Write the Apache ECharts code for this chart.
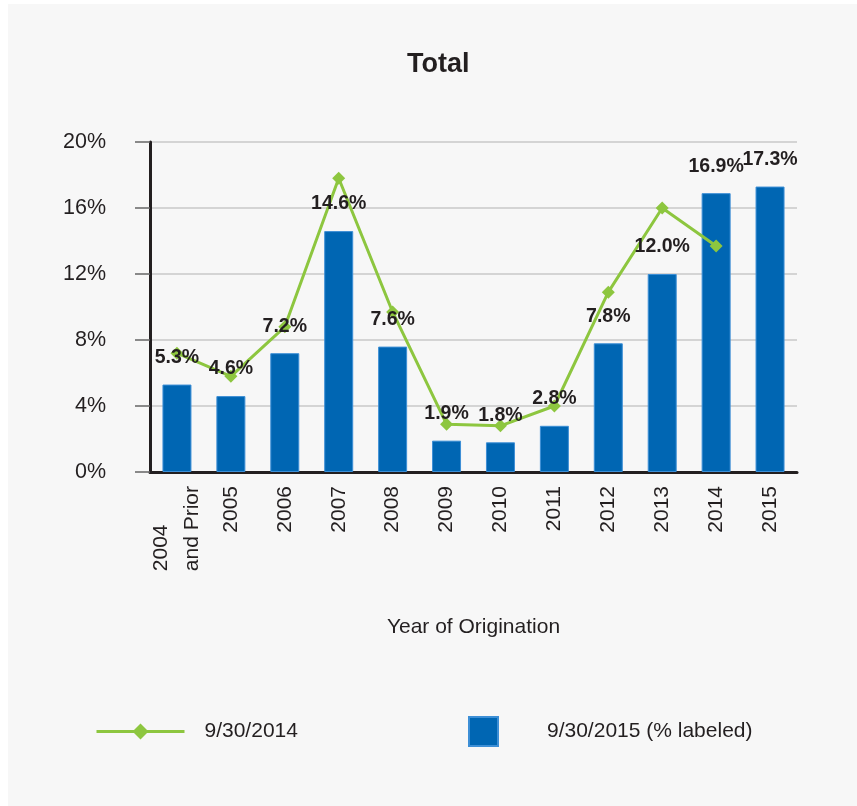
<!DOCTYPE html>
<html>
<head>
<meta charset="utf-8">
<script src="https://cdn.jsdelivr.net/npm/echarts@6/dist/echarts.min.js"></script>
<style>
  html, body { margin: 0; padding: 0; background: #fff; }
  #main { width: 857px; height: 806px; }
</style>
</head>
<body>
<div id="main"></div>
<script>
// Year of origination buckets
const years = ['2004\nand Prior', '2005', '2006', '2007', '2008', '2009', '2010', '2011', '2012', '2013', '2014', '2015']
// 9/30/2015 values (bars, labeled)
const rates2015 = [5.3, 4.6, 7.2, 14.6, 7.6, 1.9, 1.8, 2.8, 7.8, 12.0, 16.9, 17.3]
// 9/30/2014 values (line)
const rates2014 = [7.2, 5.8, 8.8, 17.8, 9.7, 2.9, 2.8, 4.0, 10.9, 16.0, 13.7, null]
const yTicks = [0, 4, 8, 12, 16, 20]

const FONT = "'Liberation Sans', Arial, sans-serif"
const INK = '#231f20'
const BLUE = '#0066b3'
const GREEN = '#8dc63f'

const chart = echarts.init(document.getElementById('main'))

const option = {
    backgroundColor: '#ffffff',
    animation: false,
    graphic: [{
        type: 'rect',
        z: -100,
        silent: true,
        shape: { x: 8, y: 4, width: 849, height: 802 },
        style: { fill: '#f7f7f7' }
    }],
    title: {
        text: 'Total',
        left: 402,
        top: 46,
        textStyle: { fontFamily: FONT, fontWeight: 'bold', fontSize: 27, color: INK }
    },
    legend: [{
        data: ['9/30/2014'],
        left: 95,
        top: 721,
        padding: 0,
        itemWidth: 88,
        itemHeight: 20,
        lineStyle: { width: 3 },
        textStyle: { fontFamily: FONT, fontSize: 21, color: INK, padding: [0, 0, 0, 15] }
    }, {
        data: [{ name: '9/30/2015 (% labeled)', icon: 'rect' }],
        left: 468,
        top: 716,
        padding: 0,
        itemWidth: 29,
        itemHeight: 29,
        textStyle: { fontFamily: FONT, fontSize: 21, color: INK, padding: [0, 0, 0, 44] }
    }],
    grid: { left: 150, right: 60, top: 142, bottom: 334 },
    xAxis: {
        type: 'category',
        data: years,
        name: 'Year of Origination',
        nameLocation: 'middle',
        nameGap: 145,
        nameTextStyle: { fontFamily: FONT, fontSize: 21, color: INK },
        axisLine: { lineStyle: { color: INK, width: 3 } },
        axisTick: { alignWithLabel: true, length: 15, lineStyle: { color: '#555', width: 1.5 } },
        axisLabel: {
            interval: 0,
            rotate: 90,
            margin: 14,
            fontFamily: FONT,
            fontSize: 21,
            color: INK,
            lineHeight: 31,
            formatter: v => v.indexOf('\n') >= 0
                ? v.split('\n').map(s => '{l|' + s + '}').join('\n')
                : v,
            rich: { l: { align: 'left', fontFamily: FONT, fontSize: 21, color: INK, lineHeight: 31 } }
        }
    },
    yAxis: {
        type: 'value',
        min: yTicks[0],
        max: yTicks[yTicks.length - 1],
        interval: yTicks[1] - yTicks[0],
        axisLine: { show: true, lineStyle: { color: INK, width: 3 } },
        axisTick: { show: true, length: 15, lineStyle: { color: '#666', width: 1.5 } },
        axisLabel: { margin: 44, fontFamily: FONT, fontSize: 21.5, color: INK, formatter: '{value}%' },
        splitLine: { lineStyle: { color: '#c8c8c8', width: 1.5 } }
    },
    series: [{
        name: '9/30/2015 (% labeled)',
        type: 'bar',
        data: rates2015,
        barWidth: 29,
        z: 2,
        itemStyle: { color: BLUE, borderColor: '#3d8fd6', borderWidth: 1 }
    }, {
        name: '9/30/2014',
        type: 'line',
        data: rates2014,
        z: 3,
        symbol: 'diamond',
        symbolSize: 13,
        lineStyle: { color: GREEN, width: 3 },
        itemStyle: { color: GREEN }
    }, {
        // transparent copy of the bars so the % labels sit above the line
        name: 'labels',
        type: 'bar',
        data: rates2015,
        barWidth: 29,
        barGap: '-100%',
        z: 4,
        silent: true,
        itemStyle: { color: 'rgba(0,0,0,0)' },
        label: {
            show: true,
            position: 'top',
            distance: 17,
            fontFamily: FONT,
            fontWeight: 'bold',
            fontSize: 19.5,
            color: INK,
            formatter: p => p.value.toFixed(1) + '%'
        }
    }]
}

chart.setOption(option)
</script>
</body>
</html>
